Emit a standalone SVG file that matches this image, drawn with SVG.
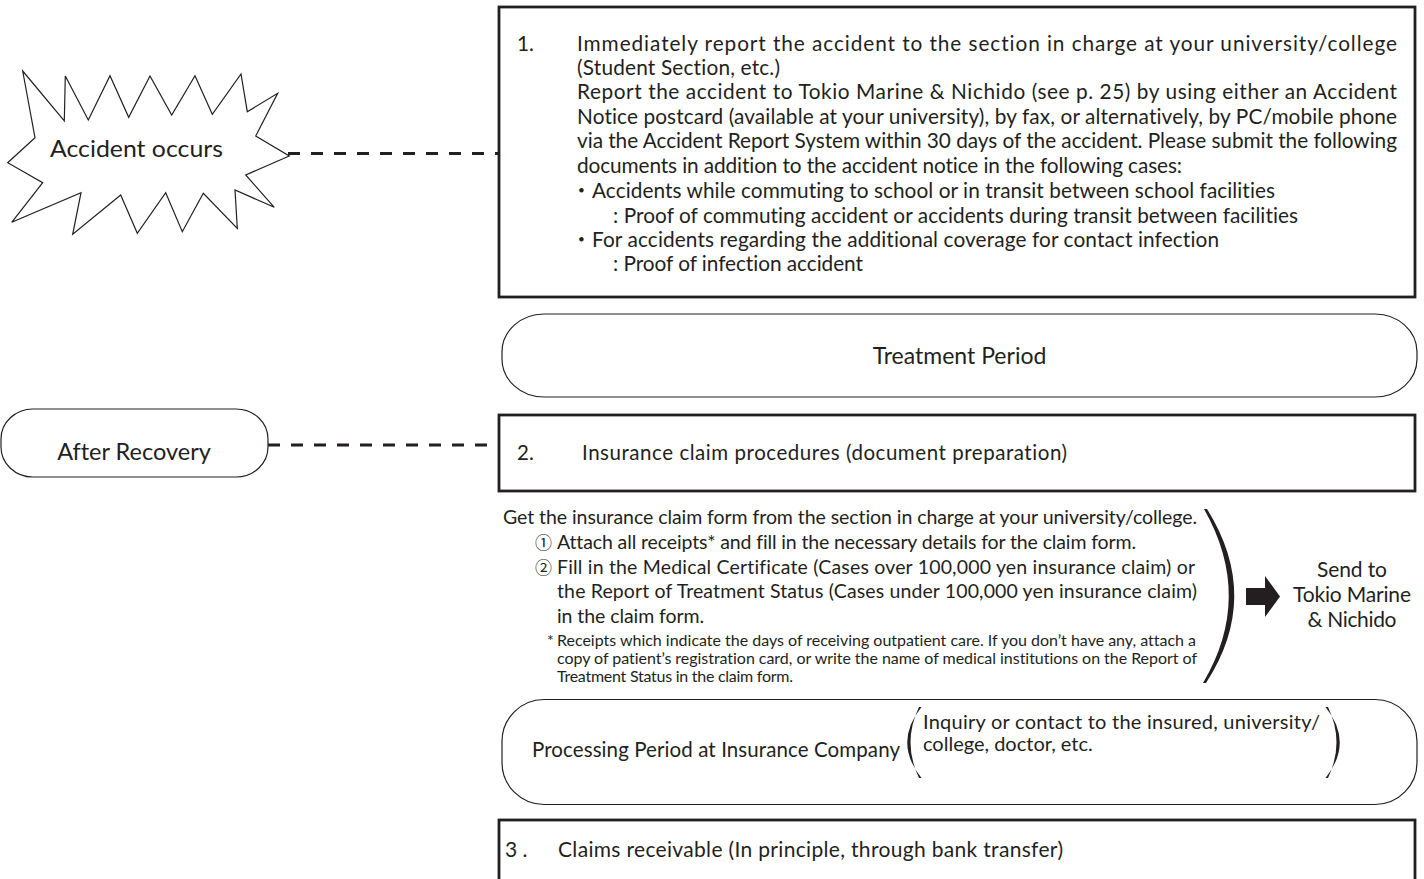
<svg xmlns="http://www.w3.org/2000/svg" width="1424" height="879" viewBox="0 0 1424 879">
<style>
text{font-family:Lato,"Noto Sans","Noto Sans CJK JP",sans-serif;fill:#231f20;font-variant-ligatures:none;font-feature-settings:"liga" 0,"clig" 0}
.b{font-size:20.8px}
.m{font-size:19.5px}
.s{font-size:16px}
.box{fill:#fff;stroke:#231f20;stroke-width:2.8}
.pill{fill:#fff;stroke:#231f20;stroke-width:1.2}
.dash{stroke:#231f20;stroke-width:2.8;stroke-dasharray:12 11;fill:none}
.cj{font-family:"Noto Sans CJK JP",sans-serif}
.cn{font-family:"Noto Sans CJK JP",sans-serif;font-size:17px}
</style>
<rect width="1424" height="879" fill="#fff"/>
<g id="connectors">
<line class="dash" x1="288" y1="153.5" x2="499" y2="153.5"/>
<line class="dash" x1="268" y1="445" x2="499" y2="445"/>
</g>
<g id="accident">
<polygon fill="#fff" stroke="#231f20" stroke-width="1.2" points="22.7,71 64.3,121 65.3,76 88.3,120 110,75.7 128.7,117.3 150,76 171.7,115 195,75.7 212.3,114.3 241,74 247.3,111.7 277.7,93.3 255.7,136 289.3,156 245.7,175 274.3,207.3 235,190 237.3,228.3 203.3,193.3 182.3,231.7 165.7,192.7 137.3,233.3 120.7,195 72.7,234.3 81,192.7 11.7,222.3 42.7,182.7 7.7,162.7 35,137.7"/>
<text x="50" y="157" font-size="23" textLength="173" lengthAdjust="spacingAndGlyphs">Accident occurs</text>
</g>
<g id="step1">
<rect class="box" x="499" y="7" width="916" height="290"/>
<text class="b" x="517" y="50.7">1.</text>
<text class="b" x="577" y="50.7" textLength="820" lengthAdjust="spacing">Immediately report the accident to the section in charge at your university/college</text>
<text class="b" x="577" y="75" textLength="203" lengthAdjust="spacing">(Student Section, etc.)</text>
<text class="b" x="577" y="99.3" textLength="820" lengthAdjust="spacing">Report the accident to Tokio Marine &amp; Nichido (see p. 25) by using either an Accident</text>
<text class="b" x="577" y="124" textLength="820" lengthAdjust="spacing">Notice postcard (available at your university), by fax, or alternatively, by PC/mobile phone</text>
<text class="b" x="577" y="148.3" textLength="820" lengthAdjust="spacing">via the Accident Report System within 30 days of the accident. Please submit the following</text>
<text class="b" x="577" y="172.7" textLength="605" lengthAdjust="spacing">documents in addition to the accident notice in the following cases:</text>
<text class="b" y="198"><tspan class="cj" x="571">・</tspan><tspan x="592" textLength="683" lengthAdjust="spacing">Accidents while commuting to school or in transit between school facilities</tspan></text>
<text class="b" x="613" y="222.5" textLength="685" lengthAdjust="spacing">: Proof of commuting accident or accidents during transit between facilities</text>
<text class="b" y="246.7"><tspan class="cj" x="571">・</tspan><tspan x="592" textLength="627" lengthAdjust="spacing">For accidents regarding the additional coverage for contact infection</tspan></text>
<text class="b" x="613" y="270.7" textLength="250" lengthAdjust="spacing">: Proof of infection accident</text>
</g>
<g id="treatment">
<rect class="pill" x="502" y="314" width="915" height="83" rx="42" ry="38"/>
<text x="959.5" y="364" font-size="23" text-anchor="middle">Treatment Period</text>
</g>
<g id="after-recovery">
<rect class="pill" x="1" y="409" width="267" height="68" rx="32" ry="30"/>
<text x="134" y="460" font-size="23.5" text-anchor="middle">After Recovery</text>
</g>
<g id="step2">
<rect class="box" x="499" y="415" width="916" height="76"/>
<text x="517" y="460" font-size="20.5">2.</text>
<text x="582" y="460" font-size="20.5" textLength="485" lengthAdjust="spacing">Insurance claim procedures (document preparation)</text>
</g>
<g id="claim-docs">
<text class="m" x="503" y="524" textLength="694" lengthAdjust="spacing">Get the insurance claim form from the section in charge at your university/college.</text>
<text class="m" y="549"><tspan class="cn" x="535">①</tspan><tspan x="557" textLength="579" lengthAdjust="spacing">Attach all receipts* and fill in the necessary details for the claim form.</tspan></text>
<text class="m" y="573.5"><tspan class="cn" x="535">②</tspan><tspan x="557" textLength="638" lengthAdjust="spacing">Fill in the Medical Certificate (Cases over 100,000 yen insurance claim) or</tspan></text>
<text class="m" x="557" y="598" textLength="640" lengthAdjust="spacing">the Report of Treatment Status (Cases under 100,000 yen insurance claim)</text>
<text class="m" x="557" y="622.5" textLength="147" lengthAdjust="spacing">in the claim form.</text>
<text class="s" y="646"><tspan x="547">*</tspan><tspan x="557" textLength="639" lengthAdjust="spacing">Receipts which indicate the days of receiving outpatient care. If you don’t have any, attach a</tspan></text>
<text class="s" x="557" y="664" textLength="640" lengthAdjust="spacing">copy of patient’s registration card, or write the name of medical institutions on the Report of</text>
<text class="s" x="557" y="682" textLength="236" lengthAdjust="spacing">Treatment Status in the claim form.</text>
<path d="M1207,509 Q1262,597 1206,683 L1203,683 Q1254,597 1204,509 Z" fill="#231f20"/>
</g>
<g id="send">
<polygon fill="#231f20" points="1246,588 1265,588 1265,576 1280,596.5 1265,617 1265,605 1246,605"/>
<text x="1352" y="577" font-size="21" text-anchor="middle" textLength="70" lengthAdjust="spacing">Send to</text>
<text x="1352" y="601.5" font-size="21" text-anchor="middle" textLength="118" lengthAdjust="spacing">Tokio Marine</text>
<text x="1352" y="627" font-size="21" text-anchor="middle" textLength="89" lengthAdjust="spacing">&amp; Nichido</text>
</g>
<g id="processing">
<rect class="pill" x="502" y="699.5" width="915" height="105" rx="42" ry="42"/>
<text x="532" y="757" font-size="20.5" textLength="368" lengthAdjust="spacing">Processing Period at Insurance Company</text>
<path d="M921.5,707 Q893,742.5 921.5,778 L919,778 Q902,742.5 919,707 Z" fill="#231f20"/>
<text x="923" y="729" font-size="20" textLength="397" lengthAdjust="spacing">Inquiry or contact to the insured, university/</text>
<text x="923" y="751" font-size="20">college, doctor, etc.</text>
<path d="M1325.5,707 Q1354,742.5 1325.5,778 L1328,778 Q1345,742.5 1328,707 Z" fill="#231f20"/>
</g>
<g id="step3">
<rect class="box" x="499" y="820" width="916" height="80"/>
<text x="505" y="857" font-size="21">3 .</text>
<text x="558" y="857" font-size="21" textLength="505" lengthAdjust="spacing">Claims receivable (In principle, through bank transfer)</text>
</g>
</svg>
